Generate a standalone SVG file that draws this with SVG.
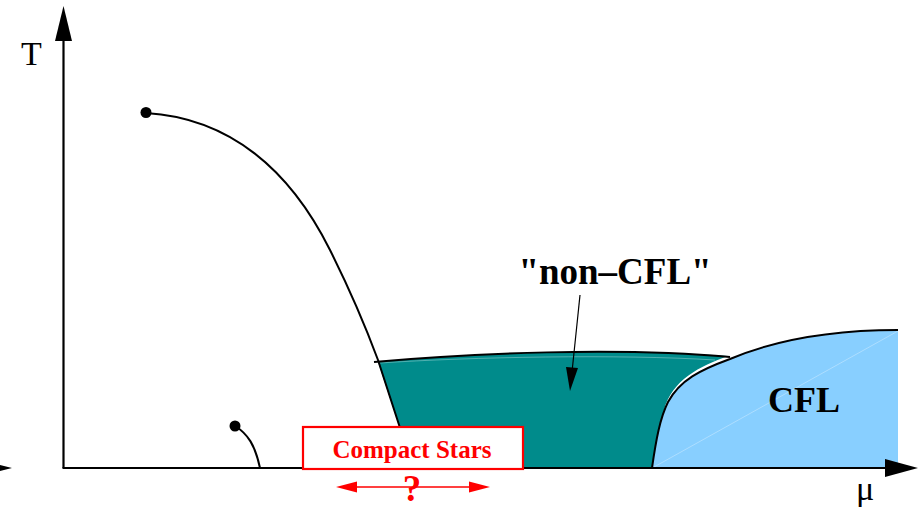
<svg xmlns="http://www.w3.org/2000/svg" width="920" height="511" viewBox="0 0 920 511">
<style>
.ax{stroke:#000;stroke-width:2.2;fill:none}
.ln{stroke:#000;stroke-width:2;fill:none}
.lbl{font-family:"Liberation Serif","Times New Roman",serif;fill:#000}
.red{font-family:"Liberation Serif","Times New Roman",serif;fill:#f00;font-weight:bold}
.faint{stroke:#fff;stroke-opacity:0.45;stroke-width:0.7;fill:none}
</style>
<rect width="920" height="511" fill="#fff"/>
<g id="regions">
<path id="noncfl-region" d="M378,362 C470,353 620,348 728,356 C700,366 672,380 664,410 L652,468 L413,468 Z" fill="#008b8b"/>
<path id="cfl-region" d="M652,468 C656,440 660,418 668,402 C680,380 700,370 730,359 C775,340 830,330 898,330 L898,468 Z" fill="#88cfff"/>
<path class="faint" d="M380,363 C470,357 620,354 715,360"/>
<path class="faint" d="M654,467 L898,331"/>
</g>
<g id="connectors">
<path class="ln" d="M146,113 C230,118 290,170 330,250 C345,280 365,325 378,360 L413,468"/>
<path class="ln" d="M374,362 C470,353 620,347 730,357"/>
<path class="ln" d="M652,468 C656,440 660,418 668,402 C680,380 700,370 730,359 C775,340 830,330 898,330"/>
<path class="ln" d="M235,426 C248,434 255,445 260,468"/>
<line x1="580" y1="295" x2="572" y2="372" stroke="#000" stroke-width="1.2"/>
<polygon points="570,391 566,367 578,368" fill="#000"/>
</g>
<g id="axes">
<line class="ax" x1="63.5" y1="468" x2="63.5" y2="38"/>
<polygon points="63.5,6 55,41 72,41" fill="#000"/>
<line class="ax" x1="62.5" y1="468" x2="888" y2="468"/>
<polygon points="918,468 885,459 885,477" fill="#000"/>
<polygon points="-20,460 12,468 -20,476" fill="#000"/>
<text class="lbl" x="21" y="65" font-size="34">T</text>
<text class="lbl" x="856" y="500" font-size="34">μ</text>
</g>
<g id="crit-point-1"><circle cx="146" cy="112.5" r="5.5" fill="#000"/></g>
<g id="crit-point-2"><circle cx="235" cy="426" r="5.5" fill="#000"/></g>
<g id="noncfl-label"><text class="lbl" x="615" y="284" font-size="37" font-weight="bold" text-anchor="middle">"non–CFL"</text></g>
<g id="cfl-label"><text class="lbl" x="804" y="412" font-size="36" font-weight="bold" text-anchor="middle">CFL</text></g>
<g id="compact-stars">
<rect x="303" y="427" width="220" height="42" fill="#fff" stroke="#f00" stroke-width="2.2"/>
<text class="red" x="412" y="458" font-size="25" text-anchor="middle">Compact Stars</text>
<line x1="350" y1="487" x2="476" y2="487" stroke="#f00" stroke-width="1.5"/>
<polygon points="336,487 357,481.5 357,492.5" fill="#f00"/>
<polygon points="490,487 469,481.5 469,492.5" fill="#f00"/>
<text class="red" x="412" y="501" font-size="37" text-anchor="middle">?</text>
</g>
</svg>
